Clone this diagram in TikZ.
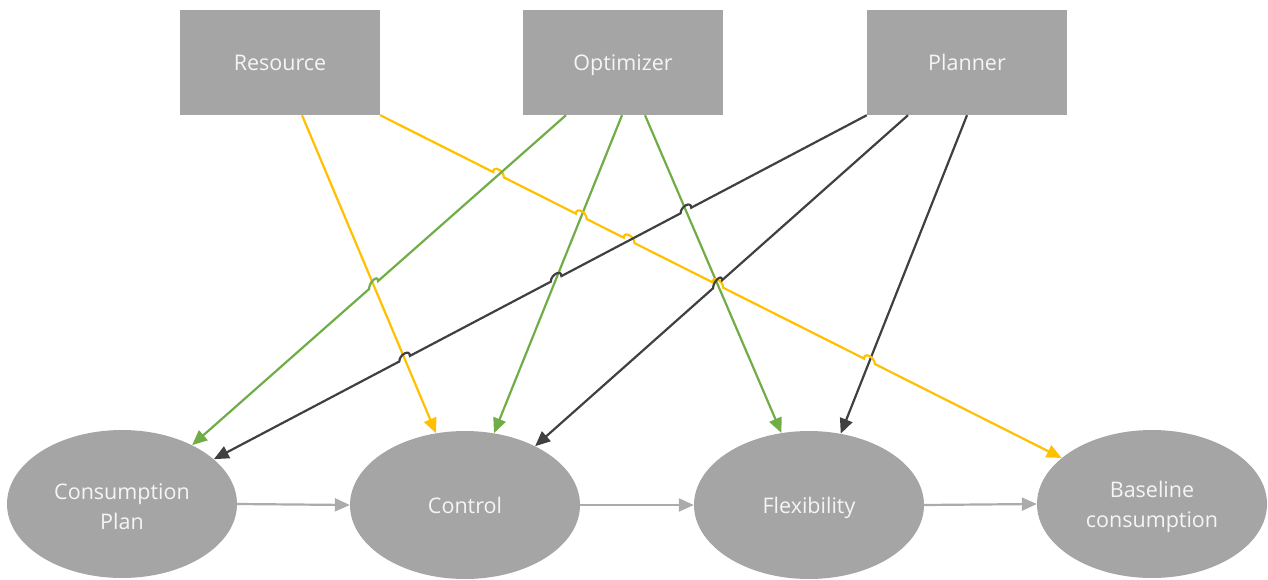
\documentclass[tikz,border=0pt]{standalone}
\usepackage{fontspec}
\setmainfont{Open Sans}
\usetikzlibrary{arrows.meta,intersections,calc,shapes.geometric}
\definecolor{boxgray}{HTML}{A5A5A5}
\definecolor{txtwhite}{HTML}{F5F5F5}
\definecolor{ygold}{HTML}{FFC000}
\definecolor{lgreen}{HTML}{70AD47}
\definecolor{dgray}{HTML}{404040}
\definecolor{agray}{HTML}{ABABAB}
\begin{document}
\begin{tikzpicture}[x=1pt,y=-1pt,
  lbl/.style={text=txtwhite, font=\fontsize{21.5}{30}\selectfont, align=center},
  oneline/.style={text height=18pt, text depth=2pt},
  srcbox/.style={lbl, oneline, rectangle, fill=boxgray, minimum width=200pt, minimum height=105pt, inner sep=0pt},
  stateell/.style={lbl, ellipse, fill=boxgray, minimum width=230pt, minimum height=148pt, inner sep=0pt},
  twoline/.style={label={[lbl, yshift=-3pt]center:#1}},
  link/.style={line width=2.2pt, -{Triangle[length=15pt,width=13pt]}},
  flow/.style={line width=2.2pt, agray, -{Triangle[length=15pt,width=13pt]}},
  yl/.style={link, ygold},
  gl/.style={link, lgreen},
  kl/.style={link, dgray}
]
\useasboundingbox (0,0) rectangle (1268,580);

% source boxes
\node[srcbox] (res) at (280,62.5) {Resource};
\node[srcbox] (opt) at (623,62.5) {Optimizer};
\node[srcbox] (pla) at (967,62.5) {Planner};

% state ellipses
\node[stateell, twoline={Consumption\\Plan}] (cp)  at (122,504) {};
\node[stateell, oneline] (ctl) at (465,505) {Control};
\node[stateell, oneline] (flx) at (809,505) {Flexibility};
\node[stateell, twoline={Baseline\\consumption}] (bas) at (1152,504) {};

% flow arrows
\draw[flow] (cp.east) -- (ctl.west);
\draw[flow] (ctl.east) -- (flx.west);
\draw[flow] (flx.east) -- (bas.west);

% start points
\coordinate (sRC) at ([xshift=22pt]res.south);
\coordinate (sRB) at (res.south east);
\coordinate (sOP) at ([xshift=-57pt]opt.south);
\coordinate (sOC) at ([xshift=-1pt]opt.south);
\coordinate (sOF) at ([xshift=22pt]opt.south);
\coordinate (sPP) at (pla.south west);
\coordinate (sPC) at ([xshift=-59pt]pla.south);
\coordinate (sPF) at ([xshift=0pt]pla.south);
% end points
\coordinate (eRC) at (ctl.112);
\coordinate (eRB) at (bas.153.4);
\coordinate (eOP) at (cp.40);
\coordinate (eOC) at (ctl.68);
\coordinate (eOF) at (flx.111);
\coordinate (ePP) at (cp.26.8);
\coordinate (ePC) at (ctl.40.7);
\coordinate (ePF) at (flx.66);

% straight paths for crossings
\path[name path=RC] (sRC) -- (eRC);
\path[name path=RB] (sRB) -- (eRB);
\path[name path=OP] (sOP) -- (eOP);
\path[name path=OC] (sOC) -- (eOC);
\path[name path=OF] (sOF) -- (eOF);
\path[name path=PP] (sPP) -- (ePP);
\path[name path=PC] (sPC) -- (ePC);
\path[name path=PF] (sPF) -- (ePF);

\path[name intersections={of=RB and OP, by=h1}];
\path[name intersections={of=RB and OC, by=h2}];
\path[name intersections={of=RB and PP, by=h3}];
\path[name intersections={of=RB and OF, by=h4}];
\path[name intersections={of=RB and PF, by=h5}];
\path[name intersections={of=PC and OF, by=h6}];
\path[name intersections={of=OP and RC, by=h7}];
\path[name intersections={of=PP and OF, by=h8}];
\path[name intersections={of=PP and OC, by=h9}];
\path[name intersections={of=PP and RC, by=h10}];

% straight connectors
\draw[yl] (sRC) -- (eRC);
\draw[gl] (sOC) -- (eOC);
\draw[gl] (sOF) -- (eOF);
\draw[kl] (sPF) -- (ePF);

% connectors with line jumps
\draw[yl] (sRB)
  -- ($(h1)!6pt!(sRB)$) .. controls +(0pt,7pt) and +(0pt,7pt) .. ($(h1)!6pt!(eRB)$)
  -- ($(h2)!6pt!(sRB)$) .. controls +(0pt,7pt) and +(0pt,7pt) .. ($(h2)!6pt!(eRB)$)
  -- ($(h3)!6pt!(sRB)$) .. controls +(0pt,7pt) and +(0pt,7pt) .. ($(h3)!6pt!(eRB)$)
  -- ($(h4)!6pt!(sRB)$) .. controls +(0pt,7pt) and +(0pt,7pt) .. ($(h4)!6pt!(eRB)$)
  -- ($(h5)!6pt!(sRB)$) .. controls +(0pt,7pt) and +(0pt,7pt) .. ($(h5)!6pt!(eRB)$)
  -- (eRB);
\draw[gl] (sOP)
  -- ($(h7)!6pt!(sOP)$) .. controls +(0pt,7pt) and +(0pt,7pt) .. ($(h7)!6pt!(eOP)$)
  -- (eOP);
\draw[kl] (sPP)
  -- ($(h8)!6pt!(sPP)$) .. controls +(0pt,7pt) and +(0pt,7pt) .. ($(h8)!6pt!(ePP)$)
  -- ($(h9)!6pt!(sPP)$) .. controls +(0pt,7pt) and +(0pt,7pt) .. ($(h9)!6pt!(ePP)$)
  -- ($(h10)!6pt!(sPP)$) .. controls +(0pt,7pt) and +(0pt,7pt) .. ($(h10)!6pt!(ePP)$)
  -- (ePP);
\draw[kl] (sPC)
  -- ($(h6)!6pt!(sPC)$) .. controls +(0pt,7pt) and +(0pt,7pt) .. ($(h6)!6pt!(ePC)$)
  -- (ePC);
\end{tikzpicture}
\end{document}
